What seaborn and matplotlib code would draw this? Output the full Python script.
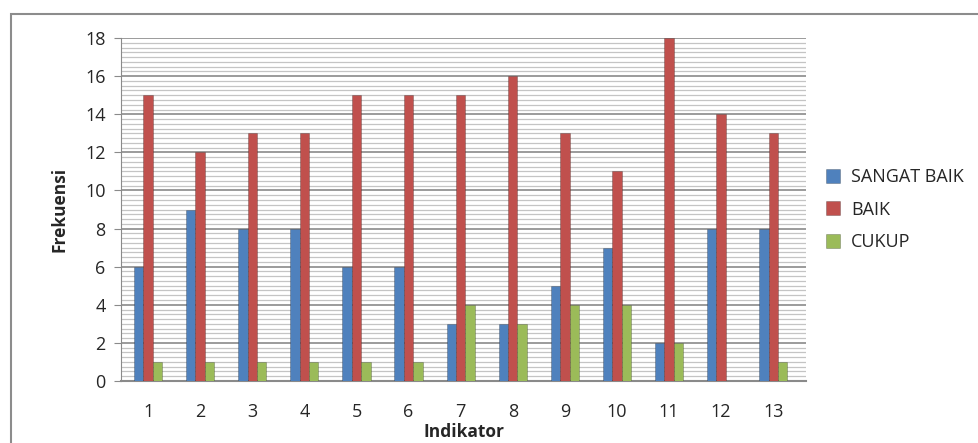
import pandas as pd
import seaborn as sns
import matplotlib.pyplot as plt
from matplotlib.patches import Rectangle
from matplotlib.ticker import MultipleLocator

# data
indikator = ['1', '2', '3', '4', '5', '6', '7', '8', '9', '10', '11', '12', '13']
sangat_baik = [6, 9, 8, 8, 6, 6, 3, 3, 5, 7, 2, 8, 8]
baik = [15, 12, 13, 13, 15, 15, 15, 16, 13, 11, 18, 14, 13]
cukup = [1, 1, 1, 1, 1, 1, 4, 3, 4, 4, 2, 0, 1]
series_names = ['SANGAT BAIK', 'BAIK', 'CUKUP']
colors = ['#4F81BD', '#C0504D', '#9BBB59']

df = pd.DataFrame({'Indikator': indikator,
                   'SANGAT BAIK': sangat_baik,
                   'BAIK': baik,
                   'CUKUP': cukup})
long_df = df.melt(id_vars='Indikator', var_name='Kategori', value_name='Frekuensi')

sns.set_style('white')
plt.rcParams['font.family'] = ['Open Sans', 'DejaVu Sans']

fig = plt.figure(figsize=(9.79, 4.43), dpi=100)
ax = fig.add_axes([0.1236, 0.14, 0.6997, 0.774])

# outer chart border
fig.patches.append(Rectangle((11 / 979, -0.05), 1.1, 1 - 14 / 443 + 0.05,
                             transform=fig.transFigure, fill=False,
                             edgecolor='#8c8c8c', linewidth=1.5))

sns.barplot(data=long_df, x='Indikator', y='Frekuensi', hue='Kategori',
            hue_order=series_names, palette=colors, width=0.54,
            saturation=1, ax=ax, zorder=3)

for patch in ax.patches:
    patch.set_edgecolor('#00000040')
    patch.set_linewidth(0.6)

ax.set_ylim(0, 18)
ax.set_xlim(-0.52, 12.63)
ax.yaxis.set_major_locator(MultipleLocator(2))
ax.yaxis.set_minor_locator(MultipleLocator(0.25))
ax.grid(which='major', axis='y', color='#8a8a8a', linewidth=1.2, zorder=0)
ax.grid(which='minor', axis='y', color='#c4c4c4', linewidth=0.9, zorder=0)
ax.set_axisbelow(True)

for side in ['top', 'right']:
    ax.spines[side].set_visible(False)
ax.spines['left'].set_color('#8a8a8a')
ax.spines['bottom'].set_color('#8a8a8a')
ax.spines['bottom'].set_linewidth(1.5)

ax.tick_params(axis='y', which='major', left=True, length=5, color='#8a8a8a',
               labelsize=13, pad=6)
ax.tick_params(axis='y', which='minor', left=False)
ax.tick_params(axis='x', bottom=False, labelsize=13, pad=12)

ax.set_xlabel('Indikator', fontsize=12.5, fontweight='bold', labelpad=2)
ax.set_ylabel('Frekuensi', fontsize=12.5, fontweight='bold', labelpad=12)

handles, labels = ax.get_legend_handles_labels()
ax.legend(handles, labels, loc='center left', bbox_to_anchor=(1.005, 0.5),
          frameon=False, fontsize=13, handlelength=0.8, handleheight=0.8,
          handletextpad=0.6, labelspacing=0.8)

fig.savefig('out.png', dpi=100)
